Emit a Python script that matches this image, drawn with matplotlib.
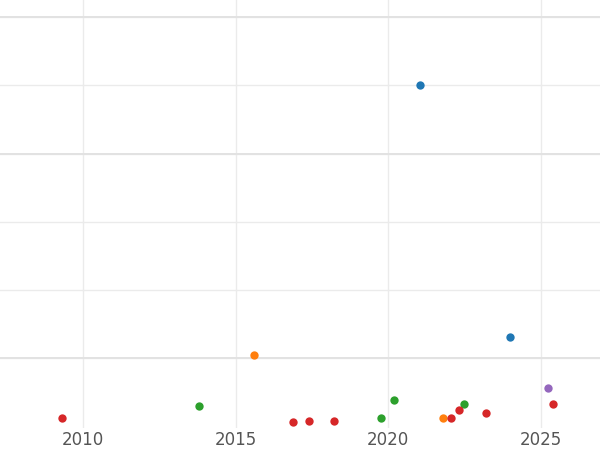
import matplotlib
matplotlib.use("Agg")
import matplotlib.pyplot as plt

# (year, value) per series; values are on an unlabelled scale
blue_x = [2021.04, 2023.98]
blue_y = [343, 91]
orange_x = [2015.62, 2021.79]
orange_y = [73, 10]
green_x = [2013.82, 2019.77, 2020.19, 2022.48]
green_y = [22, 10, 28, 24]
red_x = [2009.31, 2016.89, 2017.42, 2018.23, 2022.06, 2022.32, 2023.2, 2025.39]
red_y = [10, 6, 7, 7, 10, 18, 15, 24]
purple_x = [2025.23]
purple_y = [40]

fig = plt.figure(figsize=(6, 4.5), dpi=100)
ax = fig.add_axes([0, 22 / 450, 1, 1 - 22 / 450])

for xs, ys, c in [(blue_x, blue_y, "#1f77b4"), (orange_x, orange_y, "#ff7f0e"),
                  (green_x, green_y, "#2ca02c"), (red_x, red_y, "#d62728"),
                  (purple_x, purple_y, "#9467bd")]:
    ax.scatter(xs, ys, s=36, color=c, zorder=3, linewidths=0)

ax.set_xlim(2007.29, 2026.93)
ax.set_ylim(0, 428)
ax.set_xticks([2010, 2015, 2020, 2025])
ax.set_yticks([70, 138, 206, 274, 343, 411])
ax.set_yticklabels([])
ax.grid(True, color="#ebebeb", linewidth=1)
for v in [70, 274, 411]:
    ax.axhline(v, color="#e2e2e2", linewidth=1.4, zorder=1)
ax.set_axisbelow(True)
for s in ax.spines.values():
    s.set_visible(False)
ax.tick_params(length=0, labelsize=12, colors="#555555", pad=2)

fig.savefig("out.png")
